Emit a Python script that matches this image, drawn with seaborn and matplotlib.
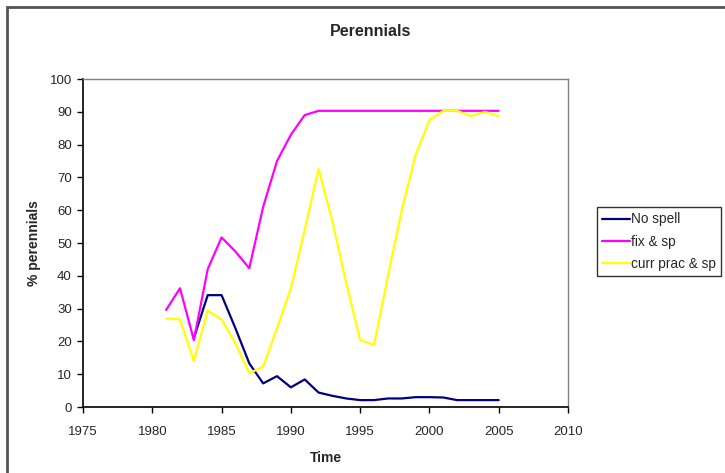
import matplotlib
matplotlib.use("Agg")
import matplotlib.pyplot as plt
import seaborn as sns
import pandas as pd
import numpy as np
from matplotlib.patches import Rectangle
from matplotlib.lines import Line2D

years = list(range(1981, 2006))
no_spell = [np.nan, np.nan, 21.0, 34.1, 34.1, 24.0, 13.3, 7.2, 9.4, 6.0, 8.4, 4.4, 3.4,
            2.6, 2.1, 2.1, 2.6, 2.6, 3.0, 3.0, 2.9, 2.1, 2.1, 2.1, 2.1]
fix_sp = [29.6, 36.2, 20.4, 42.0, 51.7, 47.4, 42.3, 61.0, 75.0, 83.0, 89.0, 90.3, 90.3,
          90.3, 90.3, 90.3, 90.3, 90.3, 90.3, 90.3, 90.3, 90.3, 90.3, 90.3, 90.3]
curr_prac = [27.0, 26.7, 14.0, 29.4, 26.7, 19.4, 10.3, 12.3, 24.0, 36.2, 54.0, 72.6, 56.5,
             37.7, 20.4, 18.9, 39.7, 60.0, 76.8, 87.5, 90.3, 90.3, 88.7, 90.0, 88.7]
series_names = ["No spell", "fix & sp", "curr prac & sp"]
colors = ["#000080", "#FF00FF", "#FFFF00"]

df = pd.concat([
    pd.DataFrame({"Time": years, "value": v, "series": n})
    for v, n in zip([no_spell, fix_sp, curr_prac], series_names)
]).dropna()

sns.set_theme(style="white")
plt.rcParams["font.family"] = ["Liberation Sans", "DejaVu Sans"]

fig = plt.figure(figsize=(7.25, 4.73), dpi=100)
W, H = 725, 473
ax = fig.add_axes([83 / W, 1 - 407 / H, (568 - 83) / W, (407 - 79) / H])

sns.lineplot(data=df, x="Time", y="value", hue="series", hue_order=series_names,
             palette=colors, linewidth=1.6, ax=ax, legend=False)

ax.set_xlim(1975, 2010)
ax.set_ylim(0, 100)
ax.set_xticks(range(1975, 2011, 5))
ax.set_yticks(range(0, 101, 10))
ax.tick_params(axis="both", direction="out", length=4, width=1, color="black",
               labelsize=9.5, left=True, bottom=True)
ax.tick_params(axis="x", pad=10)
ax.tick_params(axis="y", pad=4)
for s in ["left", "bottom"]:
    ax.spines[s].set_color("black")
    ax.spines[s].set_linewidth(1.2)
for s in ["top", "right"]:
    ax.spines[s].set_color("#808080")
    ax.spines[s].set_linewidth(1.0)
ax.set_xlabel("Time", fontsize=10, fontweight="bold", labelpad=9)
ax.set_ylabel("% perennials", fontsize=10, fontweight="bold", labelpad=6)

fig.text(371 / W, 1 - 32 / H, "Perennials", ha="center", va="center",
         fontsize=11.5, fontweight="bold")

# outer chart border (clipped at right and bottom)
top = 1 - 6.5 / H
fig.patches.append(Rectangle((7 / W, -0.2), 1.2, top + 0.2, transform=fig.transFigure,
                             fill=False, edgecolor="#555555", linewidth=2, clip_on=False))

handles = [Line2D([], [], color=c, linewidth=1.6) for c in colors]
leg = fig.legend(handles, series_names, loc="upper left",
                 bbox_to_anchor=(597 / W, 1 - 207 / H), fontsize=9.8,
                 frameon=True, fancybox=False, shadow=False, handlelength=2.0,
                 handletextpad=0.1, borderpad=0.4, labelspacing=0.6, borderaxespad=0)
leg.get_frame().set_edgecolor("black")
leg.get_frame().set_linewidth(1.0)

fig.savefig("out.png", dpi=100)
